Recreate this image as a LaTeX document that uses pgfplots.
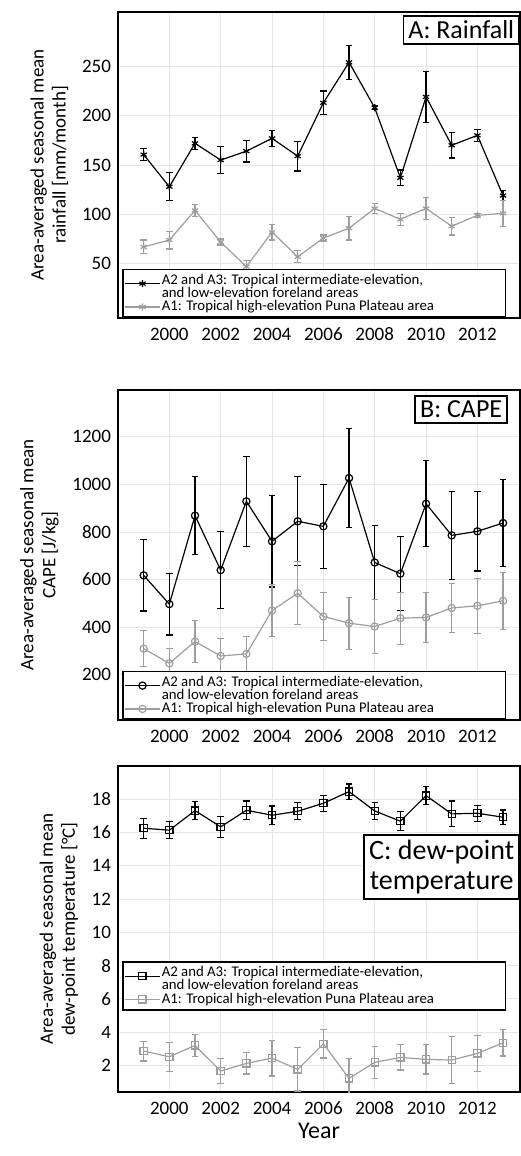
\documentclass[border=0pt]{standalone}
\usepackage{pgfplots}
\pgfplotsset{compat=1.18}
\usepackage{fontspec}
\setmainfont{Carlito}
\definecolor{lg}{gray}{0.62}
\newcommand{\LA}{\makebox[170pt][l]{\begin{tabular}{@{}l@{}}A2 and A3: Tropical intermediate-elevation,\\[-1.5pt]and low-elevation foreland areas\end{tabular}}}
\newcommand{\LB}{\makebox[170pt][l]{A1: Tropical high-elevation Puna Plateau area}}
\tikzset{
 blk/.style={black, line width=0.6pt, mark options={scale=0.9}},
 gry/.style={lg, line width=0.6pt, mark options={scale=0.9}},
 tbox/.style={draw=black, thick, fill=white, font=\fontsize{13}{14}\selectfont, align=center, inner sep=2.5pt}
}
\pgfplotsset{
 myax/.style={scale only axis, width=201pt, xmin=1998, xmax=2013.66,
  xtick={2000,2002,...,2012}, grid=major, major grid style={gray!20},
  axis line style={line width=1.1pt}, tick style={draw=none},
  /pgf/number format/assume math mode=true, /pgf/number format/1000 sep={},
  tick label style={font=\fontsize{9.5}{11}\selectfont},
  xticklabel style={text height=1.6ex, text depth=0.3ex},
  ylabel style={align=center, font=\fontsize{9.5}{11}\selectfont},
  legend cell align=left,
  legend style={font=\fontsize{7.4}{8}\selectfont, draw=black, thick, inner sep=1pt, row sep=1.5pt,
   nodes={inner sep=0.8pt}},
  error bars/y dir=both, error bars/y explicit,
  error bars/error bar style={line width=0.6pt}, error bars/error mark options={rotate=90,mark size=1.6pt, line width=0.6pt}}
}
\begin{document}
\begin{tikzpicture}
\useasboundingbox (0,0) rectangle (260pt,-578pt);
\begin{axis}[myax, at={(59pt,-6pt)}, anchor=north west, height=153pt, ymin=-5, ymax=305,
 ytick={50,100,...,250}, ylabel={Area-averaged seasonal mean\\rainfall [mm/month]},
 legend style={at={(0.01,0.0)}, anchor=south west}]
\addplot[blk, mark=asterisk] coordinates {
(1999,160.5)+-(0,6) (2000,128)+-(0,14) (2001,172)+-(0,6) (2002,155)+-(0,14) (2003,164)+-(0,11)
(2004,177)+-(0,8) (2005,159)+-(0,15) (2006,213)+-(0,12) (2007,254)+-(0,17) (2008,208)+-(0,2)
(2009,137)+-(0,8) (2010,219)+-(0,26) (2011,170)+-(0,13) (2012,180)+-(0,6) (2013,119)+-(0,5)};
\addlegendentry{\LA}
\addplot[gry, mark=asterisk] coordinates {
(1999,67)+-(0,7) (2000,74)+-(0,9) (2001,104)+-(0,6) (2002,72)+-(0,3) (2003,47)+-(0,6)
(2004,82)+-(0,8) (2005,57)+-(0,6) (2006,76)+-(0,3) (2007,86)+-(0,12) (2008,106)+-(0,5)
(2009,95)+-(0,6) (2010,106)+-(0,11) (2011,88)+-(0,9) (2012,99)+-(0,2) (2013,101)+-(0,13)};
\addlegendentry{\LB}
\node[tbox, anchor=north east] at (rel axis cs:1,0.99) {A: Rainfall};
\end{axis}
\begin{axis}[myax, at={(59pt,-195pt)}, anchor=north west, height=165pt, ymin=10, ymax=1397,
 ytick={200,400,...,1200}, ylabel={Area-averaged seasonal mean\\CAPE [J/kg]},
 legend style={at={(0.01,0.0)}, anchor=south west}]
\addplot[blk, mark=o] coordinates {
(1999,618)+-(0,150) (2000,497)+-(0,130) (2001,869)+-(0,165) (2002,640)+-(0,163) (2003,929)+-(0,190)
(2004,761)+-(0,192) (2005,845)+-(0,187) (2006,824)+-(0,176) (2007,1027)+-(0,207) (2008,672)+-(0,156)
(2009,625)+-(0,155) (2010,919)+-(0,181) (2011,786)+-(0,184) (2012,803)+-(0,167) (2013,838)+-(0,182)};
\addlegendentry{\LA}
\addplot[gry, mark=o] coordinates {
(1999,310)+-(0,76) (2000,248)+-(0,64) (2001,340)+-(0,87) (2002,279)+-(0,75) (2003,288)+-(0,73)
(2004,470)+-(0,108) (2005,543)+-(0,133) (2006,445)+-(0,102) (2007,417)+-(0,109) (2008,403)+-(0,112)
(2009,438)+-(0,109) (2010,441)+-(0,106) (2011,481)+-(0,104) (2012,490)+-(0,115) (2013,511)+-(0,119)};
\addlegendentry{\LB}
\node[tbox, anchor=north east] at (rel axis cs:0.97,0.985) {B: CAPE};
\end{axis}
\begin{axis}[myax, at={(59pt,-383pt)}, anchor=north west, height=163pt, ymin=0.4, ymax=20,
 ytick={2,4,...,18}, ylabel={Area-averaged seasonal mean\\dew-point temperature [°C]},
 xlabel={Year}, xlabel style={font=\fontsize{12}{13}\selectfont, yshift=4pt},
 legend style={at={(0.01,0.25)}, anchor=south west}]
\addplot[blk, mark=square] coordinates {
(1999,16.26)+-(0,0.6) (2000,16.14)+-(0,0.52) (2001,17.32)+-(0,0.54) (2002,16.34)+-(0,0.62) (2003,17.34)+-(0,0.56)
(2004,17.04)+-(0,0.56) (2005,17.28)+-(0,0.52) (2006,17.76)+-(0,0.48) (2007,18.46)+-(0,0.46) (2008,17.3)+-(0,0.5)
(2009,16.68)+-(0,0.58) (2010,18.22)+-(0,0.54) (2011,17.12)+-(0,0.78) (2012,17.16)+-(0,0.48) (2013,16.92)+-(0,0.44)};
\addlegendentry{\LA}
\addplot[gry, mark=square] coordinates {
(1999,2.86)+-(0,0.6) (2000,2.52)+-(0,0.88) (2001,3.2)+-(0,0.66) (2002,1.66)+-(0,0.74) (2003,2.12)+-(0,0.64)
(2004,2.44)+-(0,1.08) (2005,1.76)+-(0,1.3) (2006,3.3)+-(0,0.86) (2007,1.22)+-(0,1.18) (2008,2.18)+-(0,0.98)
(2009,2.48)+-(0,0.76) (2010,2.36)+-(0,0.88) (2011,2.32)+-(0,1.4) (2012,2.72)+-(0,1.08) (2013,3.36)+-(0,0.8)};
\addlegendentry{\LB}
\node[tbox, anchor=north east, font=\fontsize{14}{15}\selectfont] at (rel axis cs:1,0.79) {C: dew-point\\temperature};
\end{axis}
\end{tikzpicture}
\end{document}
